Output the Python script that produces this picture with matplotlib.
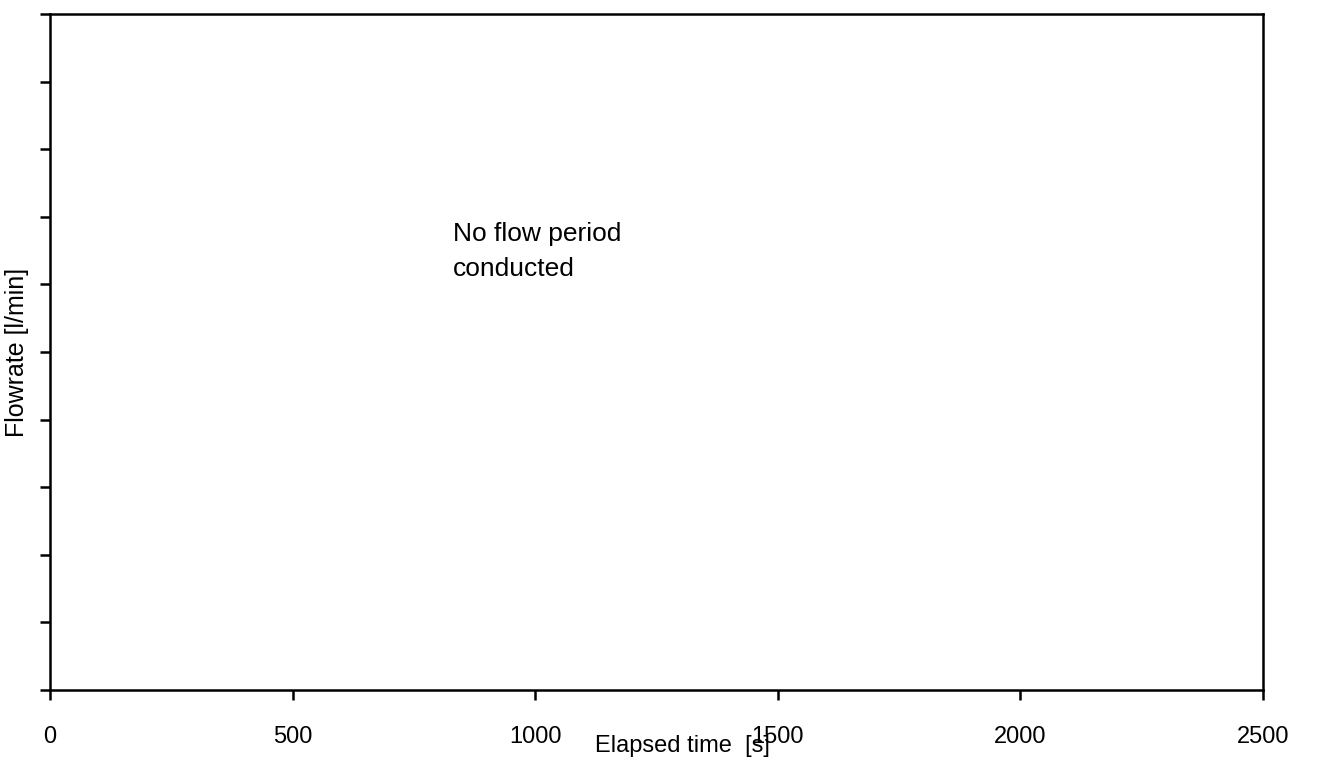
import matplotlib.pyplot as plt

plt.rcParams['font.family'] = ['Liberation Sans', 'DejaVu Sans']

# axis setup
x_ticks = [0, 500, 1000, 1500, 2000, 2500]
x_tick_labels = ['0', '500', '1000', '1500', '2000', '2500']
y_ticks = list(range(0, 11))
note_text = 'No flow period\nconducted'
note_pos = (830, 6.93)

fig = plt.figure(figsize=(13.17, 7.6), dpi=100)
ax = fig.add_axes([50 / 1317, 70 / 760, 1213 / 1317, 676 / 760])

ax.set_xlim(0, 2500)
ax.set_ylim(0, 10)
ax.set_xticks(x_ticks)
ax.set_xticklabels(x_tick_labels)
ax.set_yticks(y_ticks)
ax.set_yticklabels([])

for s in ax.spines.values():
    s.set_linewidth(1.8)
ax.tick_params(axis='both', direction='out', length=7, width=1.8,
               labelsize=17, pad=19)

ax.text(note_pos[0], note_pos[1], note_text, fontsize=19,
        va='top', ha='left', linespacing=1.6)

ax.set_ylabel('Flowrate [l/min]', fontsize=18)
ax.yaxis.set_label_coords(-0.017, 0.5)
ax.set_xlabel('Elapsed time  [s]', fontsize=17)
ax.xaxis.set_label_coords(0.521, -0.067)

fig.savefig('out.png', dpi=100, facecolor='white')
